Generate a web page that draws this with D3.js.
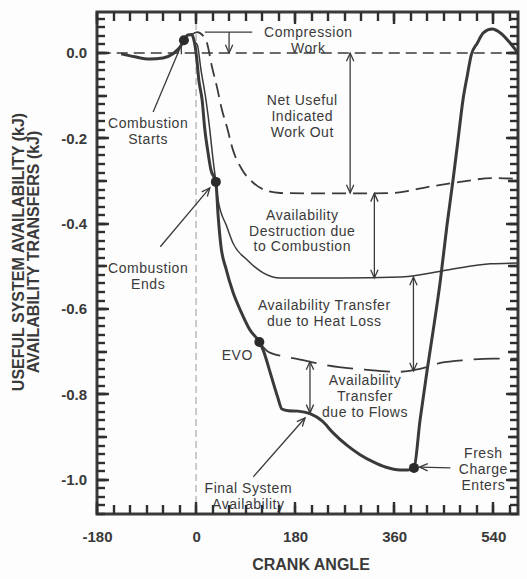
<!DOCTYPE html>
<html>
<head>
<meta charset="utf-8">
<script src="https://cdn.jsdelivr.net/npm/d3@7"></script>
<style>
  html, body { margin: 0; padding: 0; background: #fdfdfd; }
  svg { display: block; }
  text { font-family: "Liberation Sans", Arial, sans-serif; fill: #3a3a3a; }
</style>
</head>
<body>
<svg id="chart" width="527" height="579"></svg>
<script>
// ---------------- DATA ----------------
const xTickLabels = [-180, 0, 180, 360, 540];
const yTickLabels = [0.0, -0.2, -0.4, -0.6, -0.8, -1.0];

// Final system availability (thick solid)
const finalAngle = [-136, -111, -84, -60, -42, -29, -22, -15, -8, -3, 1, 5, 11, 16, 21, 27, 36, 40, 45, 55, 67, 82, 98, 115, 122, 135, 148, 156, 168, 185, 207, 229, 249, 275, 298, 322, 344, 371, 385, 396, 407, 420, 431, 444, 456, 467, 476, 485, 493, 500, 511, 522, 538, 553, 571, 585];
const finalAvail = [-0.002, -0.009, -0.014, -0.012, -0.002, 0.014, 0.030, 0.042, 0.043, 0.025, -0.010, -0.063, -0.110, -0.180, -0.227, -0.274, -0.302, -0.379, -0.450, -0.508, -0.560, -0.607, -0.649, -0.677, -0.696, -0.750, -0.805, -0.834, -0.838, -0.839, -0.845, -0.862, -0.890, -0.920, -0.941, -0.958, -0.970, -0.977, -0.977, -0.972, -0.860, -0.742, -0.649, -0.532, -0.403, -0.297, -0.204, -0.110, -0.052, -0.005, 0.023, 0.047, 0.056, 0.047, 0.023, 0.0];

// Work boundary (dashed)
const workAngle = [-8, 2, 13, 20, 29, 38, 47, 56, 67, 84, 104, 129, 153, 213, 300, 358, 420, 480, 540, 585];
const workAvail = [0.043, 0.049, 0.040, 0.023, -0.033, -0.080, -0.133, -0.173, -0.227, -0.274, -0.304, -0.323, -0.328, -0.329, -0.329, -0.328, -0.314, -0.302, -0.293, -0.295];

// Combustion destruction / heat loss boundary (thin solid)
const heatAngle = [-3, 2, 9, 18, 25, 30, 36, 40, 56, 67, 93, 122, 153, 262, 371, 429, 480, 535, 585];
const heatAvail = [0.025, 0.020, -0.040, -0.110, -0.180, -0.240, -0.302, -0.344, -0.407, -0.445, -0.485, -0.515, -0.527, -0.527, -0.525, -0.515, -0.503, -0.494, -0.492];

// Heat loss / flow boundary (long dashed)
const flowAngle = [115, 131, 160, 185, 235, 307, 365, 407, 444, 493, 540, 585];
const flowAvail = [-0.677, -0.700, -0.711, -0.717, -0.731, -0.742, -0.747, -0.740, -0.726, -0.719, -0.716, -0.716];

// Marked events
const eventAngle = [-22, 36, 115, 396];
const eventAvail = [0.030, -0.302, -0.677, -0.972];

// ---------------- SETUP ----------------
const svg = d3.select("#chart");
const W = 527, H = 579;
const m = { top: 12, right: 9, bottom: 65, left: 97 };
const ink = "#3a3a3a";

const x = d3.scaleLinear().domain([-180, 585]).range([m.left, W - m.right]);
const y = d3.scaleLinear().domain([-1.08, 0.096]).range([H - m.bottom, m.top]);

const zip = (a, b) => a.map((v, i) => [v, b[i]]);
const line = d3.line().x(d => x(d[0])).y(d => y(d[1])).curve(d3.curveMonotoneX);

// vertical faint dashed line at TDC
svg.append("line")
  .attr("x1", x(0)).attr("x2", x(0))
  .attr("y1", y.range()[1]).attr("y2", y.range()[0])
  .attr("stroke", "#9a9a9a").attr("stroke-width", 1)
  .attr("stroke-dasharray", "7,4");

// zero dashed line
svg.append("line")
  .attr("x1", x(-175)).attr("x2", x(585))
  .attr("y1", y(0)).attr("y2", y(0))
  .attr("stroke", ink).attr("stroke-width", 1.6)
  .attr("stroke-dasharray", "11,6");

// curves
svg.append("path").datum(zip(workAngle, workAvail)).attr("d", line)
  .attr("fill", "none").attr("stroke", ink).attr("stroke-width", 1.8)
  .attr("stroke-dasharray", "14,7");

svg.append("path").datum(zip(heatAngle, heatAvail)).attr("d", line)
  .attr("fill", "none").attr("stroke", ink).attr("stroke-width", 1.5);

svg.append("path").datum(zip(flowAngle, flowAvail)).attr("d", line)
  .attr("fill", "none").attr("stroke", ink).attr("stroke-width", 1.8)
  .attr("stroke-dasharray", "26,11");

svg.append("path").datum(zip(finalAngle, finalAvail)).attr("d", line)
  .attr("fill", "none").attr("stroke", ink).attr("stroke-width", 3)
  .attr("stroke-linejoin", "round");

// event dots
svg.selectAll("circle.ev").data(zip(eventAngle, eventAvail)).join("circle")
  .attr("class", "ev")
  .attr("cx", d => x(d[0])).attr("cy", d => y(d[1])).attr("r", 5)
  .attr("fill", "#2b2b2b");

// ---------------- ANNOTATIONS ----------------
const ann = svg.append("g");
function head(px0, py0, px1, py1) {
  const a = Math.atan2(py1 - py0, px1 - px0);
  const L = 9, s = 0.42;
  const p1 = [px1 - L * Math.cos(a - s), py1 - L * Math.sin(a - s)];
  const p2 = [px1 - L * Math.cos(a + s), py1 - L * Math.sin(a + s)];
  ann.append("path")
    .attr("d", `M${p1[0]},${p1[1]}L${px1},${py1}L${p2[0]},${p2[1]}`)
    .attr("fill", "none").attr("stroke", ink).attr("stroke-width", 1.3);
}
function arrow(a0, v0, a1, v1, both) {
  const px0 = x(a0), py0 = y(v0), px1 = x(a1), py1 = y(v1);
  ann.append("line").attr("x1", px0).attr("y1", py0).attr("x2", px1).attr("y2", py1)
    .attr("stroke", ink).attr("stroke-width", 1.3);
  head(px0, py0, px1, py1);
  if (both) head(px1, py1, px0, py0);
}
function label(a, vals, lines) {
  const t = ann.append("text").attr("text-anchor", "middle")
    .attr("font-size", 14).attr("letter-spacing", "0.55px");
  lines.forEach((s, i) => {
    t.append("tspan").attr("x", x(a)).attr("y", y(vals[i])).attr("dy", "0.36em").text(s);
  });
}

// Compression work
ann.append("line").attr("x1", x(16)).attr("x2", x(102)).attr("y1", y(0.049)).attr("y2", y(0.049))
  .attr("stroke", ink).attr("stroke-width", 1.3);
arrow(60, 0.049, 60, 0.0, false);
label(204, [0.049, 0.012], ["Compression", "Work"]);

// Net useful indicated work
arrow(280, 0.0, 280, -0.328, true);
label(193, [-0.110, -0.148, -0.185], ["Net Useful", "Indicated", "Work Out"]);

// Destruction due to combustion
arrow(324, -0.329, 324, -0.527, true);
label(193, [-0.379, -0.416, -0.453], ["Availability", "Destruction due", "to Combustion"]);

// Heat loss
arrow(395, -0.525, 395, -0.745, true);
label(233, [-0.590, -0.628], ["Availability Transfer", "due to Heat Loss"]);

// Flows
arrow(207, -0.723, 207, -0.843, true);
label(307, [-0.766, -0.804, -0.842], ["Availability", "Transfer", "due to Flows"]);

// Combustion starts
arrow(-78, -0.138, -27, 0.018, false);
label(-87, [-0.163, -0.201], ["Combustion", "Starts"]);

// Combustion ends
arrow(-65, -0.454, 25, -0.316, false);
label(-87, [-0.504, -0.542], ["Combustion", "Ends"]);

// EVO
label(75, [-0.707], ["EVO"]);

// Final system availability
arrow(104, -0.993, 198, -0.855, false);
label(95, [-1.018, -1.056], ["Final System", "Availability"]);

// Fresh charge enters
arrow(462, -0.972, 406, -0.970, false);
label(522, [-0.936, -0.974, -1.012], ["Fresh", "Charge", "Enters"]);

// ---------------- FRAME & AXES ----------------
const fx0 = m.left, fx1 = W - m.right, fy0 = H - m.bottom, fy1 = m.top;

svg.append("rect").attr("x", fx0).attr("y", fy1).attr("width", fx1 - fx0).attr("height", fy0 - fy1)
  .attr("fill", "none").attr("stroke", ink).attr("stroke-width", 3);

const xMinor = d3.range(-180, 586, 30);
const yMinor = d3.range(-54, 5).map(i => +(i * 0.02).toFixed(2));
const yMid = d3.range(-10, 1).map(i => +(i * 0.1).toFixed(1));

const tk = svg.append("g");
function tickLine(px1, py1, px2, py2) {
  tk.append("line")
    .attr("x1", px1).attr("y1", py1).attr("x2", px2).attr("y2", py2)
    .attr("stroke", "#2f2f2f").attr("stroke-width", 2.4);
}
function xTicks(vals, len) {
  vals.forEach(d => {
    const px = Math.round(x(d));
    tickLine(px, fy0, px, fy0 - len);
    tickLine(px, fy1, px, fy1 + len);
  });
}
function yTicks(vals, len) {
  vals.forEach(d => {
    const py = Math.round(y(d));
    tickLine(fx0, py, fx0 + len, py);
    tickLine(fx1, py, fx1 - len, py);
  });
}
xTicks(xMinor, 9);
xTicks(xTickLabels, 12);
yTicks(yMinor, 8);
yTicks(yMid, 10);
yTicks(yTickLabels, 12);

function styleAxis(g) {
  g.select(".domain").remove();
  g.selectAll(".tick line").remove();
  g.selectAll(".tick text").attr("fill", ink).attr("font-size", 15).attr("font-weight", "bold")
    .attr("font-family", "'Liberation Sans', Arial, sans-serif");
}
svg.append("g").attr("transform", `translate(0,${fy0})`)
  .call(d3.axisBottom(x).tickValues(xTickLabels).tickSize(0).tickPadding(17).tickFormat(d => String(d)))
  .call(styleAxis);
svg.append("g").attr("transform", `translate(${fx0},0)`)
  .call(d3.axisLeft(y).tickValues(yTickLabels).tickSize(0).tickPadding(10).tickFormat(d => d.toFixed(1)))
  .call(styleAxis);

// axis titles
svg.append("text").attr("x", 311).attr("y", 570).attr("text-anchor", "middle")
  .attr("font-size", 16).attr("font-weight", "bold").text("CRANK ANGLE");

const yt = svg.append("text").attr("text-anchor", "middle").attr("font-size", 16).attr("font-weight", "bold")
  .attr("transform", "translate(0,252) rotate(-90)");
yt.append("tspan").attr("x", 0).attr("y", 18).attr("dy", "0.36em").text("USEFUL SYSTEM AVAILABILITY (kJ)");
yt.append("tspan").attr("x", 0).attr("y", 33).attr("dy", "0.36em").text("AVAILABILITY TRANSFERS (kJ)");
</script>
</body>
</html>
